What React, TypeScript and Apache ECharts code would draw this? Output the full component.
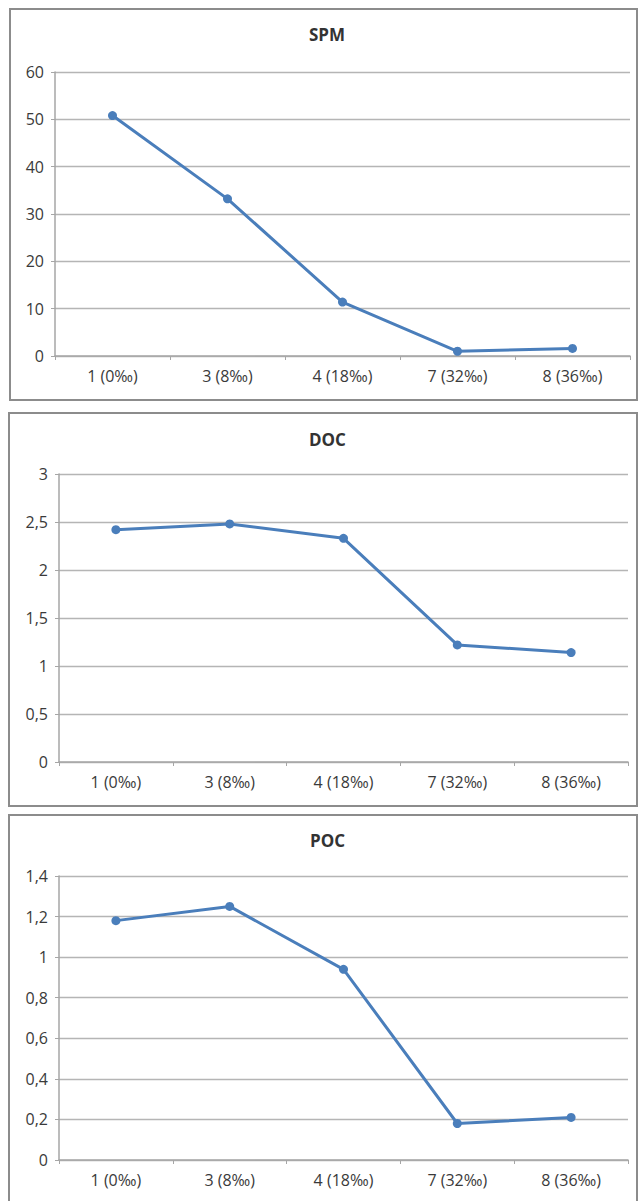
import React, { useEffect, useRef } from "react";
import * as echarts from "echarts";

// Sampling stations with salinity, shared by all three panels
const categories = ["1 (0‰)", "3 (8‰)", "4 (18‰)", "7 (32‰)", "8 (36‰)"];

// Measured values per station
const spmValues = [50.8, 33.2, 11.4, 1.0, 1.6];
const docValues = [2.42, 2.48, 2.33, 1.22, 1.14];
const pocValues = [1.18, 1.25, 0.94, 0.18, 0.21];

// Panel titles and value-axis ranges
const panelTitles = ["SPM", "DOC", "POC"];
const axisMax = [60, 3, 1.4];
const axisStep = [10, 0.5, 0.2];

const W = 638;
const H = 1201;

// Frame and plot-area geometry for each panel
const frames = [
  { x: 10, y: 9, w: 627, h: 391 },
  { x: 9, y: 413, w: 628, h: 393 },
  { x: 9, y: 815, w: 628, h: 400 },
];
const grids = [
  { left: 55, right: 8, top: 72, height: 284 },
  { left: 59, right: 10, top: 474, height: 288 },
  { left: 59, right: 10, top: 876, height: 284 },
];
const titleTops = [26, 431, 832];
const titleLefts = [309, 309, 310];

const FONT = "Open Sans";
const LINE_COLOR = "#4a7ebb";

const fmt = (v: number) => String(+v.toFixed(2)).replace(".", ",");

export default function App() {
  const ref = useRef<HTMLDivElement>(null);

  useEffect(() => {
    if (!ref.current) return;
    const chart = echarts.init(ref.current, undefined, { renderer: "svg" });
    const series = [spmValues, docValues, pocValues];

    chart.setOption({
      animation: false,
      backgroundColor: "#ffffff",
      title: panelTitles.map((t, i) => ({
        text: t,
        left: titleLefts[i],
        top: titleTops[i],
        padding: 0,
        textStyle: {
          fontFamily: FONT,
          fontSize: 17,
          fontWeight: "bold",
          color: "#333333",
        },
      })),
      grid: grids.map((g) => ({ ...g, containLabel: false })),
      xAxis: grids.map((_, i) => ({
        type: "category",
        gridIndex: i,
        data: categories,
        boundaryGap: true,
        axisLine: { show: true, lineStyle: { color: "#a6a6a6", width: 1.5 } },
        axisTick: { show: true, length: 4, lineStyle: { color: "#a6a6a6" } },
        axisLabel: {
          fontFamily: FONT,
          fontSize: 16,
          color: "#3a3a3a",
          margin: 12,
        },
        splitLine: { show: false },
      })),
      yAxis: grids.map((_, i) => ({
        type: "value",
        gridIndex: i,
        min: 0,
        max: axisMax[i],
        interval: axisStep[i],
        axisLine: { show: true, lineStyle: { color: "#a6a6a6", width: 1.5 } },
        axisTick: { show: true, length: 4, lineStyle: { color: "#a6a6a6" } },
        axisLabel: {
          fontFamily: FONT,
          fontSize: 16,
          color: "#3a3a3a",
          margin: 11,
          formatter: fmt,
        },
        splitLine: { show: true, lineStyle: { color: "#b5b5b5", width: 1.3 } },
      })),
      series: series.map((d, i) => ({
        type: "line",
        xAxisIndex: i,
        yAxisIndex: i,
        data: d,
        symbol: "circle",
        symbolSize: 9,
        lineStyle: { color: LINE_COLOR, width: 3 },
        itemStyle: { color: LINE_COLOR },
      })),
      graphic: frames.map((f) => ({
        type: "rect",
        shape: { x: f.x, y: f.y, width: f.w, height: f.h },
        style: { fill: "none", stroke: "#8c8c8c", lineWidth: 2 },
        silent: true,
      })),
    });

    return () => chart.dispose();
  }, []);

  return (
    <div
      ref={ref}
      style={{ position: "absolute", left: 0, top: 0, width: W, height: H }}
    />
  );
}
